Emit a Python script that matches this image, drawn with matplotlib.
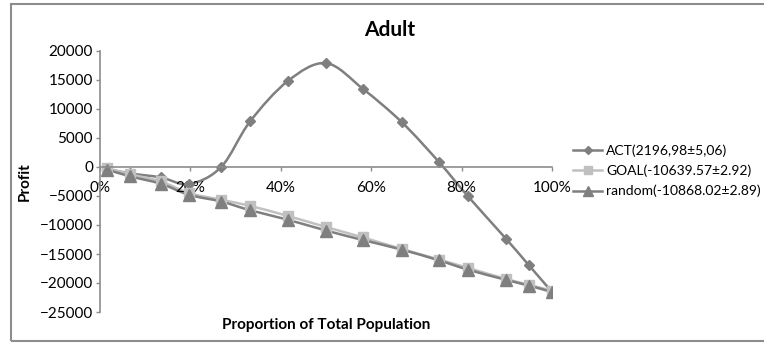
import numpy as np
import matplotlib.pyplot as plt
from matplotlib.path import Path
from matplotlib.patches import PathPatch, Rectangle
from matplotlib.lines import Line2D

plt.rcParams['font.family'] = ['Lato', 'DejaVu Sans']

# proportion of total population (%) and profit for each method
proportion = [1.6, 6.6, 13.5, 19.7, 26.8, 33.2, 41.6, 50.0, 58.2, 66.8, 75.0, 81.4, 89.8, 94.9, 100.0]
act = [-350, -1100, -1800, -2950, 0, 7850, 14850, 17900, 13450, 7700, 850, -5050, -12350, -16950, -21550]
goal = [-200, -1250, -2500, -4500, -5650, -6700, -8450, -10350, -12150, -14150, -15950, -17400, -19300, -20300, -21350]
rand = [-450, -1600, -2900, -4800, -5950, -7450, -9100, -10950, -12600, -14250, -16100, -17700, -19450, -20450, -21550]

labels = ['ACT(2196,98\u00b15,06)', 'GOAL(-10639.57\u00b12.92)', 'random(-10868.02\u00b12.89)']
colors = ['#7f7f7f', '#c0c0c0', '#7f7f7f']
markers = ['D', 's', '^']
msizes = [5.5, 7, 8]

yticks = np.arange(-25000, 20001, 5000)
xticks = [0, 20, 40, 60, 80, 100]


def smooth_path(x, y):
    # cubic bezier through the points, like a smoothed spreadsheet line
    pts = np.column_stack([x, y]).astype(float)
    n = len(pts)
    verts = [pts[0]]
    codes = [Path.MOVETO]
    for i in range(n - 1):
        p0 = pts[i - 1] if i > 0 else pts[i]
        p1 = pts[i]
        p2 = pts[i + 1]
        p3 = pts[i + 2] if i + 2 < n else pts[i + 1]
        c1 = p1 + (p2 - p0) / 6
        c2 = p2 - (p3 - p1) / 6
        verts += [c1, c2, p2]
        codes += [Path.CURVE4] * 3
    return Path(verts, codes)


fig = plt.figure(figsize=(7.64, 3.43), dpi=100)
fig.patches.append(Rectangle((11 / 764, 2 / 343), 1.0, 337 / 343, transform=fig.transFigure,
                             fill=False, edgecolor='#8c8c8c', linewidth=1.5))
ax = fig.add_axes([100 / 764, 31 / 343, 452 / 764, 261 / 343])

handles = []
for vals, lab, col, mk, ms in zip([act, goal, rand], labels, colors, markers, msizes):
    ax.add_patch(PathPatch(smooth_path(proportion, vals), fill=False, edgecolor=col, linewidth=1.8))
    ax.plot(proportion, vals, linestyle='none', marker=mk, markersize=ms, color=col)
    handles.append(Line2D([], [], color=col, linewidth=1.8, marker=mk, markersize=ms - 1, label=lab))

ax.set_xlim(0, 100)
ax.set_ylim(-25000, 20000)
ax.set_yticks(yticks)
ax.set_xticks(xticks)
ax.set_xticklabels([f'{v}%' for v in xticks])

for s in ['top', 'right']:
    ax.spines[s].set_visible(False)
ax.spines['bottom'].set_position(('data', 0))
for s in ['bottom', 'left']:
    ax.spines[s].set_color('#8c8c8c')
    ax.spines[s].set_linewidth(1.2)
ax.tick_params(axis='y', length=3, width=1, color='#8c8c8c', pad=2, labelsize=11)
ax.tick_params(axis='x', length=3, width=1, color='#8c8c8c', pad=7, labelsize=11)

fig.text(390 / 764, 1 - 30 / 343, 'Adult', ha='center', va='center', fontsize=15, fontweight='bold')
ax.set_ylabel('Profit', fontsize=11, fontweight='bold', labelpad=6)
fig.text(326 / 764, 1 - 325 / 343, 'Proportion of Total Population', ha='center', va='center',
         fontsize=11, fontweight='bold')

fig.legend(handles=handles, loc='center left', bbox_to_anchor=(573 / 764, 1 - 171 / 343),
           frameon=False, fontsize=10, handlelength=2.1, handletextpad=0.3, labelspacing=0.55,
           borderpad=0, borderaxespad=0)

fig.savefig('out.png', dpi=100)
